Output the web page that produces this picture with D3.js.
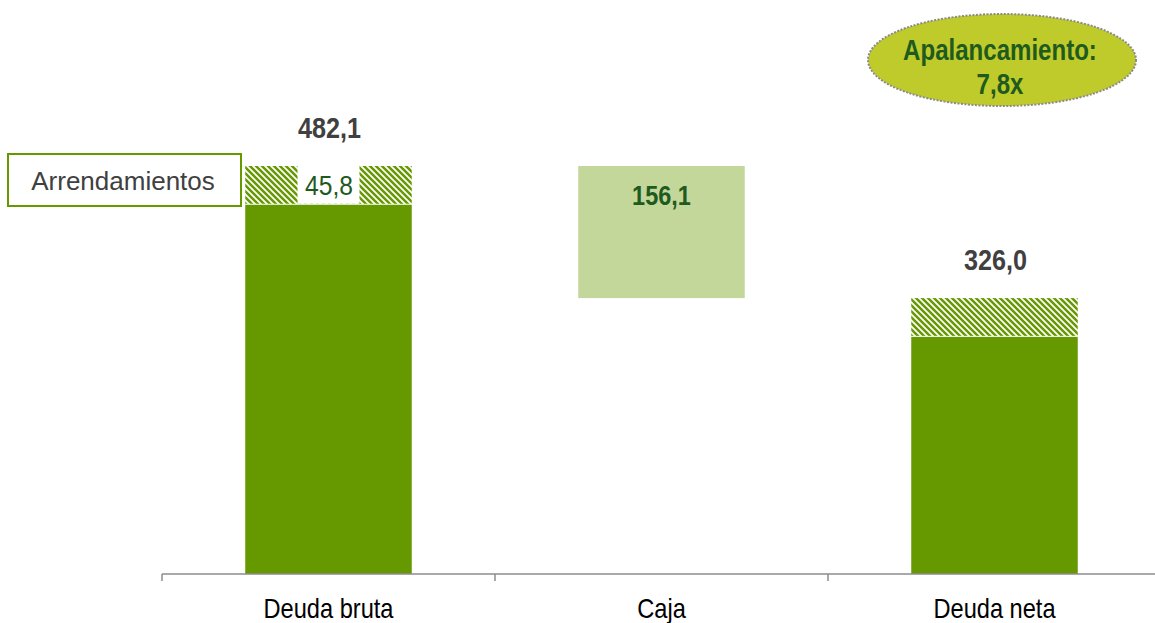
<!DOCTYPE html>
<html>
<head>
<meta charset="utf-8">
<script src="https://cdn.jsdelivr.net/npm/d3@7"></script>
<style>
  html, body { margin: 0; padding: 0; background: #fff; }
  svg { display: block; }
</style>
</head>
<body>
<svg id="chart" width="1155" height="623"></svg>
<script>
// Debt bridge: gross debt minus cash gives net debt
const categories = ["Deuda bruta", "Caja", "Deuda neta"];
const totals     = [482.1, 156.1, 326.0];   // labelled value of each column
const bases      = [0, 326.0, 0];           // where each column starts
const leases     = [45.8, 0, 45.8];         // leasing share, drawn hatched on top
const totalLabels = ["482,1", "156,1", "326,0"];
const leaseLabel = "45,8";
const leaseName = "Arrendamientos";
const leverageText = ["Apalancamiento:", "7,8x"];

const svg = d3.select("#chart");

const x = d3.scaleBand().domain(categories).range([162, 1161]).paddingInner(0).paddingOuter(0);
const y = d3.scaleLinear().domain([0, 482.1]).range([574, 166]);
const barW = x.bandwidth() * 0.5;
const cx = d => x(d) + x.bandwidth() / 2;

const GREEN = "#669900", LIGHT = "#c4d79b", DARK = "#1f5a1f", GREY = "#404040";
const SANS = "'Liberation Sans', Arial, sans-serif";

// condensed text: a regular sans face squeezed horizontally
function label(parent, px, py, str, opts) {
  const g = parent.append("g")
    .attr("transform", `translate(${px},${py}) scale(${opts.sx || 1},1)`);
  return g.append("text")
    .attr("x", 0).attr("y", 0)
    .attr("text-anchor", opts.anchor || "middle")
    .attr("font-family", SANS)
    .attr("font-weight", opts.bold ? "bold" : "normal")
    .attr("font-size", opts.size)
    .attr("fill", opts.fill)
    .text(str);
}

// hatch pattern for the leasing portion
const defs = svg.append("defs");
const pat = defs.append("pattern")
  .attr("id", "hatch").attr("patternUnits", "userSpaceOnUse")
  .attr("width", 6).attr("height", 6);
pat.append("rect").attr("width", 6).attr("height", 6).attr("fill", "#fff");
pat.append("path")
  .attr("d", "M-3,-3 L9,9 M-3,3 L3,9 M3,-3 L9,3")
  .attr("stroke", GREEN).attr("stroke-width", 2.5);

const data = categories.map((c, i) => ({
  cat: c, total: totals[i], base: bases[i], lease: leases[i], label: totalLabels[i]
}));

// columns
data.forEach(d => {
  const left = cx(d.cat) - barW / 2;
  if (d.cat === "Caja") {
    svg.append("rect")
      .attr("x", left).attr("width", barW)
      .attr("y", y(d.base + d.total)).attr("height", y(d.base) - y(d.base + d.total))
      .attr("fill", LIGHT);
  } else {
    const solidTop = d.total - d.lease;
    svg.append("rect")
      .attr("x", left).attr("width", barW)
      .attr("y", y(solidTop)).attr("height", y(0) - y(solidTop))
      .attr("fill", GREEN);
    svg.append("rect")
      .attr("x", left).attr("width", barW)
      .attr("y", y(d.total)).attr("height", y(solidTop) - y(d.total) - 1)
      .attr("fill", "url(#hatch)");
  }
});

// value labels
data.forEach(d => {
  if (d.cat === "Caja") {
    label(svg, cx(d.cat), y(d.base + d.total) + 39, d.label,
      { size: 28, bold: true, sx: 0.84, fill: DARK });
  } else {
    label(svg, cx(d.cat) + 1, y(d.total) - 28, d.label,
      { size: 30, bold: true, sx: 0.84, fill: GREY });
  }
});

// leasing amount on the first column, on a white plate
const first = data[0];
const leaseMid = (y(first.total) + y(first.total - first.lease)) / 2;
svg.append("rect")
  .attr("x", cx(first.cat) - 31).attr("width", 62)
  .attr("y", y(first.total)).attr("height", y(first.total - first.lease) - y(first.total) - 1)
  .attr("fill", "#fff");
label(svg, cx(first.cat) + 0.5, leaseMid + 10, leaseLabel,
  { size: 28, sx: 0.88, fill: DARK });

// leasing legend box
svg.append("rect")
  .attr("x", 8).attr("y", 154).attr("width", 233).attr("height", 52)
  .attr("fill", "#fff").attr("stroke", GREEN).attr("stroke-width", 2);
label(svg, 123, 190, leaseName, { size: 26, fill: GREY });

// category axis
const gx = svg.append("g").attr("transform", "translate(0,574)");
gx.append("line").attr("x1", x.range()[0]).attr("x2", x.range()[1]).attr("y1", 0).attr("y2", 0)
  .attr("stroke", "#8c8c8c").attr("stroke-width", 1.5);
gx.selectAll("line.tick").data(categories).enter().append("line")
  .attr("class", "tick")
  .attr("x1", d => x(d)).attr("x2", d => x(d)).attr("y1", 0).attr("y2", 7)
  .attr("stroke", "#8c8c8c").attr("stroke-width", 1.5);
categories.forEach(c => {
  label(gx, cx(c), 44, c, { size: 27, sx: 0.875, fill: "#000" });
});

// leverage ellipse
const eg = svg.append("g").attr("transform", "translate(1002,60)");
eg.append("ellipse").attr("rx", 134).attr("ry", 46)
  .attr("fill", "#bfcb2a").attr("stroke", "#8a8a8a")
  .attr("stroke-width", 2).attr("stroke-dasharray", "2,1.5");
label(eg, -2, 0, leverageText[0], { size: 29, bold: true, sx: 0.83, fill: DARK });
label(eg, -2, 34, leverageText[1], { size: 29, bold: true, sx: 0.83, fill: DARK });
</script>
</body>
</html>
